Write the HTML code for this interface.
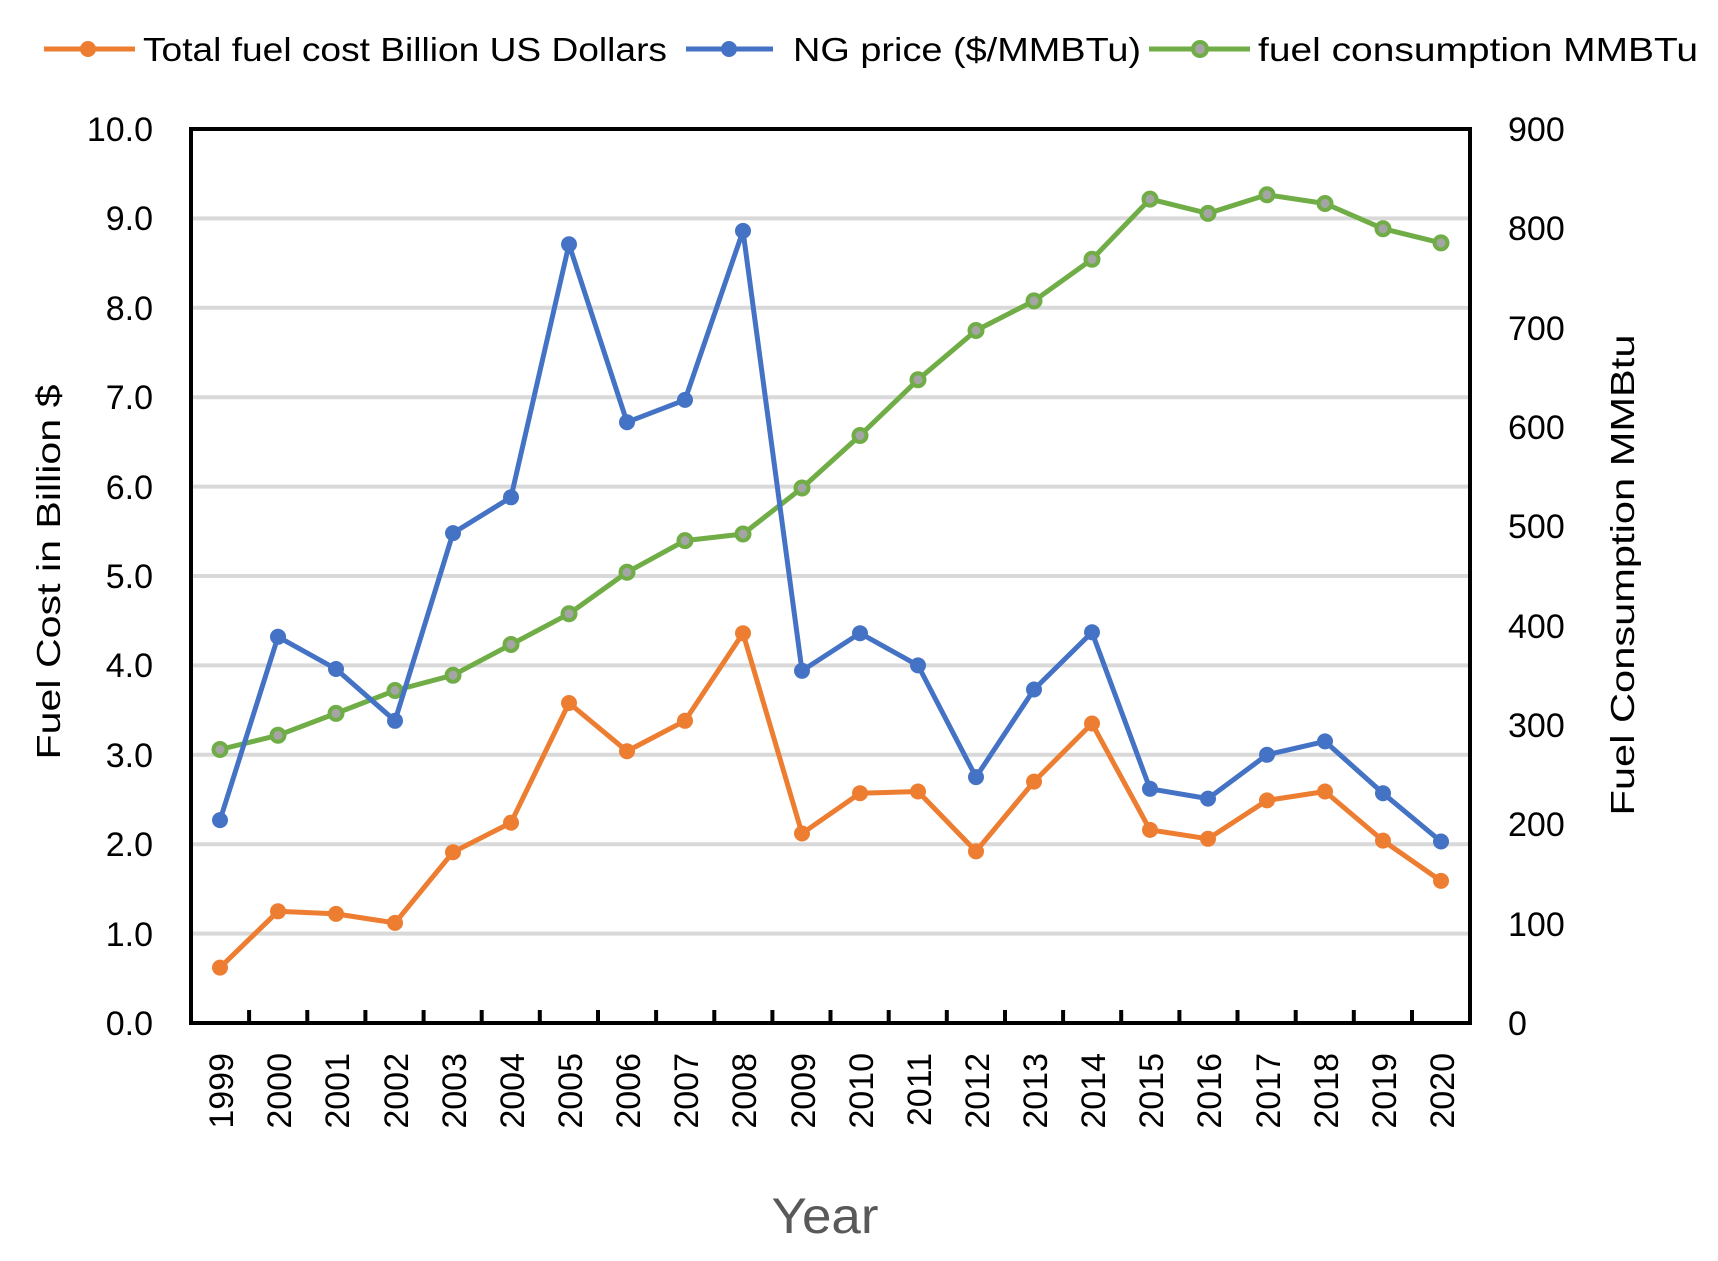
<!DOCTYPE html>
<html><head><meta charset="utf-8"><style>
html,body{margin:0;padding:0;background:#fff;}
svg{display:block;}
text{font-family:"Liberation Sans",sans-serif;fill:#000;}
</style></head><body>
<svg width="1718" height="1261" viewBox="0 0 1718 1261" xmlns="http://www.w3.org/2000/svg">
<!-- legend -->
<line x1="44" y1="49" x2="135" y2="49" stroke="#ED7D31" stroke-width="5"/>
<circle cx="88" cy="49" r="8" fill="#ED7D31"/>
<text x="143" y="61" font-size="33" textLength="524" lengthAdjust="spacingAndGlyphs">Total fuel cost Billion US Dollars</text>
<line x1="686" y1="49" x2="773" y2="49" stroke="#4472C4" stroke-width="5"/>
<circle cx="729" cy="49" r="8" fill="#4472C4"/>
<text x="793" y="61" font-size="33" textLength="348" lengthAdjust="spacingAndGlyphs">NG price ($/MMBTu)</text>
<line x1="1149" y1="49" x2="1250" y2="49" stroke="#70AD47" stroke-width="5"/>
<circle cx="1200" cy="49" r="7" fill="#A5A5A5" stroke="#70AD47" stroke-width="4"/>
<text x="1258" y="61" font-size="33" textLength="440" lengthAdjust="spacingAndGlyphs">fuel consumption  MMBTu</text>

<!-- gridlines -->
<g stroke="#D9D9D9" stroke-width="4">
<line x1="191" x2="1470" y1="933.6" y2="933.6"/>
<line x1="191" x2="1470" y1="844.2" y2="844.2"/>
<line x1="191" x2="1470" y1="754.8" y2="754.8"/>
<line x1="191" x2="1470" y1="665.4" y2="665.4"/>
<line x1="191" x2="1470" y1="576" y2="576"/>
<line x1="191" x2="1470" y1="486.6" y2="486.6"/>
<line x1="191" x2="1470" y1="397.2" y2="397.2"/>
<line x1="191" x2="1470" y1="307.8" y2="307.8"/>
<line x1="191" x2="1470" y1="218.4" y2="218.4"/>
</g>
<!-- frame -->
<rect x="191" y="129" width="1279" height="894" fill="none" stroke="#000" stroke-width="4"/>
<g stroke="#000" stroke-width="4">
<line x1="249.1" x2="249.1" y1="1023" y2="1010"/><line x1="307.3" x2="307.3" y1="1023" y2="1010"/>
<line x1="365.4" x2="365.4" y1="1023" y2="1010"/><line x1="423.6" x2="423.6" y1="1023" y2="1010"/>
<line x1="481.7" x2="481.7" y1="1023" y2="1010"/><line x1="539.8" x2="539.8" y1="1023" y2="1010"/>
<line x1="598" x2="598" y1="1023" y2="1010"/><line x1="656.1" x2="656.1" y1="1023" y2="1010"/>
<line x1="714.3" x2="714.3" y1="1023" y2="1010"/><line x1="772.4" x2="772.4" y1="1023" y2="1010"/>
<line x1="830.5" x2="830.5" y1="1023" y2="1010"/><line x1="888.7" x2="888.7" y1="1023" y2="1010"/>
<line x1="946.8" x2="946.8" y1="1023" y2="1010"/><line x1="1005" x2="1005" y1="1023" y2="1010"/>
<line x1="1063.1" x2="1063.1" y1="1023" y2="1010"/><line x1="1121.2" x2="1121.2" y1="1023" y2="1010"/>
<line x1="1179.4" x2="1179.4" y1="1023" y2="1010"/><line x1="1237.5" x2="1237.5" y1="1023" y2="1010"/>
<line x1="1295.7" x2="1295.7" y1="1023" y2="1010"/><line x1="1353.8" x2="1353.8" y1="1023" y2="1010"/>
<line x1="1412" x2="1412" y1="1023" y2="1010"/>
</g>

<!-- left ticks -->
<g font-size="34" text-anchor="end">
<text x="153" y="1035">0.0</text><text x="153" y="946">1.0</text><text x="153" y="856">2.0</text>
<text x="153" y="767">3.0</text><text x="153" y="677">4.0</text><text x="153" y="588">5.0</text>
<text x="153" y="499">6.0</text><text x="153" y="409">7.0</text><text x="153" y="320">8.0</text>
<text x="153" y="230">9.0</text><text x="153" y="141">10.0</text>
</g>
<!-- right ticks -->
<g font-size="34">
<text x="1508" y="1035">0</text><text x="1508" y="936">100</text><text x="1508" y="836">200</text>
<text x="1508" y="737">300</text><text x="1508" y="638">400</text><text x="1508" y="538">500</text>
<text x="1508" y="439">600</text><text x="1508" y="340">700</text><text x="1508" y="240">800</text>
<text x="1508" y="141">900</text>
</g>
<!-- year labels -->
<g font-size="34" text-anchor="end">
<text transform="translate(233,1053) rotate(-90)">1999</text>
<text transform="translate(291,1053) rotate(-90)">2000</text>
<text transform="translate(349,1053) rotate(-90)">2001</text>
<text transform="translate(408,1053) rotate(-90)">2002</text>
<text transform="translate(466,1053) rotate(-90)">2003</text>
<text transform="translate(524,1053) rotate(-90)">2004</text>
<text transform="translate(582,1053) rotate(-90)">2005</text>
<text transform="translate(640,1053) rotate(-90)">2006</text>
<text transform="translate(698,1053) rotate(-90)">2007</text>
<text transform="translate(756,1053) rotate(-90)">2008</text>
<text transform="translate(815,1053) rotate(-90)">2009</text>
<text transform="translate(873,1053) rotate(-90)">2010</text>
<text transform="translate(931,1053) rotate(-90)">2011</text>
<text transform="translate(989,1053) rotate(-90)">2012</text>
<text transform="translate(1047,1053) rotate(-90)">2013</text>
<text transform="translate(1105,1053) rotate(-90)">2014</text>
<text transform="translate(1163,1053) rotate(-90)">2015</text>
<text transform="translate(1221,1053) rotate(-90)">2016</text>
<text transform="translate(1280,1053) rotate(-90)">2017</text>
<text transform="translate(1338,1053) rotate(-90)">2018</text>
<text transform="translate(1396,1053) rotate(-90)">2019</text>
<text transform="translate(1454,1053) rotate(-90)">2020</text>
</g>

<!-- axis titles -->
<text transform="translate(60,572) rotate(-90)" font-size="33" text-anchor="middle" textLength="375" lengthAdjust="spacingAndGlyphs">Fuel Cost in Billion $</text>
<text transform="translate(1634,575) rotate(-90)" font-size="33" text-anchor="middle" textLength="481" lengthAdjust="spacingAndGlyphs">Fuel Consumption MMBtu</text>
<text x="825" y="1233" font-size="50" text-anchor="middle" style="fill:#595959" textLength="107" lengthAdjust="spacingAndGlyphs">Year</text>

<!-- green series -->
<polyline fill="none" stroke="#70AD47" stroke-width="5" stroke-linejoin="round"
points="220,749.5 278,735.3 336,713.4 395,690.5 453,675.2 511,644.5 569,613.8 627,572.3 685,540.6 743,534 802,488 860,435.5 918,379.7 976,330.5 1034,300.9 1092,259.3 1150,199.1 1208,213.4 1267,194.8 1325,203.5 1383,228.7 1441,242.9"/>
<g fill="#A5A5A5" stroke="#70AD47" stroke-width="4">
<circle cx="220" cy="749.5" r="6.5"/><circle cx="278" cy="735.3" r="6.5"/><circle cx="336" cy="713.4" r="6.5"/>
<circle cx="395" cy="690.5" r="6.5"/><circle cx="453" cy="675.2" r="6.5"/><circle cx="511" cy="644.5" r="6.5"/>
<circle cx="569" cy="613.8" r="6.5"/><circle cx="627" cy="572.3" r="6.5"/><circle cx="685" cy="540.6" r="6.5"/>
<circle cx="743" cy="534" r="6.5"/><circle cx="802" cy="488" r="6.5"/><circle cx="860" cy="435.5" r="6.5"/>
<circle cx="918" cy="379.7" r="6.5"/><circle cx="976" cy="330.5" r="6.5"/><circle cx="1034" cy="300.9" r="6.5"/>
<circle cx="1092" cy="259.3" r="6.5"/><circle cx="1150" cy="199.1" r="6.5"/><circle cx="1208" cy="213.4" r="6.5"/>
<circle cx="1267" cy="194.8" r="6.5"/><circle cx="1325" cy="203.5" r="6.5"/><circle cx="1383" cy="228.7" r="6.5"/>
<circle cx="1441" cy="242.9" r="6.5"/>
</g>

<!-- blue series -->
<polyline fill="none" stroke="#4472C4" stroke-width="5" stroke-linejoin="round"
points="220,820.1 278,636.8 336,669 395,720.8 453,533.1 511,497.3 569,244.3 627,422.2 685,399.9 743,230.9 802,670.8 860,633.2 918,665.4 976,777.1 1034,689.5 1092,632.3 1150,788.8 1208,798.6 1267,754.8 1325,741.4 1383,793.2 1441,841.5"/>
<g fill="#4472C4">
<circle cx="220" cy="820.1" r="8"/><circle cx="278" cy="636.8" r="8"/><circle cx="336" cy="669" r="8"/>
<circle cx="395" cy="720.8" r="8"/><circle cx="453" cy="533.1" r="8"/><circle cx="511" cy="497.3" r="8"/>
<circle cx="569" cy="244.3" r="8"/><circle cx="627" cy="422.2" r="8"/><circle cx="685" cy="399.9" r="8"/>
<circle cx="743" cy="230.9" r="8"/><circle cx="802" cy="670.8" r="8"/><circle cx="860" cy="633.2" r="8"/>
<circle cx="918" cy="665.4" r="8"/><circle cx="976" cy="777.1" r="8"/><circle cx="1034" cy="689.5" r="8"/>
<circle cx="1092" cy="632.3" r="8"/><circle cx="1150" cy="788.8" r="8"/><circle cx="1208" cy="798.6" r="8"/>
<circle cx="1267" cy="754.8" r="8"/><circle cx="1325" cy="741.4" r="8"/><circle cx="1383" cy="793.2" r="8"/>
<circle cx="1441" cy="841.5" r="8"/>
</g>

<!-- orange series -->
<polyline fill="none" stroke="#ED7D31" stroke-width="5" stroke-linejoin="round"
points="220,967.6 278,911.3 336,913.9 395,922.9 453,852.2 511,822.7 569,703 627,751.2 685,720.8 743,633.2 802,833.5 860,793.2 918,791.5 976,851.4 1034,781.6 1092,723.5 1150,829.9 1208,838.8 1267,800.4 1325,791.5 1383,840.6 1441,880.9"/>
<g fill="#ED7D31">
<circle cx="220" cy="967.6" r="8"/><circle cx="278" cy="911.3" r="8"/><circle cx="336" cy="913.9" r="8"/>
<circle cx="395" cy="922.9" r="8"/><circle cx="453" cy="852.2" r="8"/><circle cx="511" cy="822.7" r="8"/>
<circle cx="569" cy="703" r="8"/><circle cx="627" cy="751.2" r="8"/><circle cx="685" cy="720.8" r="8"/>
<circle cx="743" cy="633.2" r="8"/><circle cx="802" cy="833.5" r="8"/><circle cx="860" cy="793.2" r="8"/>
<circle cx="918" cy="791.5" r="8"/><circle cx="976" cy="851.4" r="8"/><circle cx="1034" cy="781.6" r="8"/>
<circle cx="1092" cy="723.5" r="8"/><circle cx="1150" cy="829.9" r="8"/><circle cx="1208" cy="838.8" r="8"/>
<circle cx="1267" cy="800.4" r="8"/><circle cx="1325" cy="791.5" r="8"/><circle cx="1383" cy="840.6" r="8"/>
<circle cx="1441" cy="880.9" r="8"/>
</g>
</svg>
</body></html>
